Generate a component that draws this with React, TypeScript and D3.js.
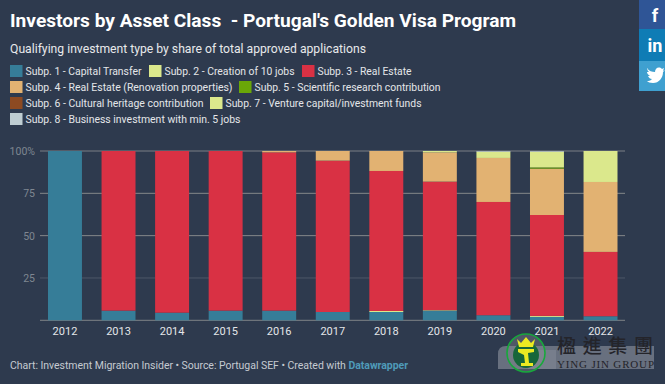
import React from "react";
import * as d3 from "d3";

const years = ["2012","2013","2014","2015","2016","2017","2018","2019","2020","2021","2022"];
const seriesNames = [
  "Subp. 1 - Capital Transfer",
  "Subp. 2 - Creation of 10 jobs",
  "Subp. 3 - Real Estate",
  "Subp. 4 - Real Estate (Renovation properties)",
  "Subp. 5 - Scientific research contribution",
  "Subp. 6 - Cultural heritage contribution",
  "Subp. 7 - Venture capital/investment funds",
  "Subp. 8 - Business investment with min. 5 jobs",
];
const seriesColors = ["#367d98","#dbe88c","#d93144","#e2b272","#6aa708","#8d4a22","#dbe88c","#bfcdd2"];
const sub1 = [100,5.7,4.5,5.7,5.7,4.9,4.9,5.7,3,2,2.4];
const sub2 = [0,0,0,0,0,0,0.6,0.3,0,0.6,0];
const sub3 = [0,94.3,95.5,94.3,93.5,89.4,82.7,75.9,66.9,59.6,38];
const sub4 = [0,0,0,0,0.8,5.7,11.8,17.3,26,27.4,41.3];
const sub5 = [0,0,0,0,0,0,0,0,0,0.7,0];
const sub6 = [0,0,0,0,0,0,0,0,0,0,0];
const sub7 = [0,0,0,0,0,0,0,0.8,3.7,9.3,18.3];
const sub8 = [0,0,0,0,0,0,0,0,0.4,0.4,0];
const allSeries = [sub1,sub2,sub3,sub4,sub5,sub6,sub7,sub8];
const yTicks = [0,25,50,75,100];
const tickLabels = ["","25","50","75","100%"];
const gridColors = ["#7f8488","#4e5768","#85888a","#85888a","#7a7f85"];

const legendOrder = [0,1,2,3,4,5,6,7];
const legendRow = [0,0,0,1,1,2,2,3];
const legendSwatchX = [10,149,302,10,239,10,210,10];
const legendTextWidth = [116,130,94,207,186,178,196,215];
const titleText = "Investors by Asset Class  - Portugal's Golden Visa Program";
const subtitleText = "Qualifying investment type by share of total approved applications";
const footerText = "Chart: Investment Migration Insider • Source: Portugal SEF • Created with ";
const footerLink = "Datawrapper";

const W = 665, H = 384;
const font = "Roboto, sans-serif";

export default function App() {
  const x = d3.scaleBand<string>().domain(years).range([38.2,627.3]).paddingInner(0.366).paddingOuter(0.183);
  const y = d3.scaleLinear().domain([0,100]).range([320.3,151]);
  const table = years.map((yr,i)=>{
    const o: Record<string, number|string> = {year: yr};
    allSeries.forEach((s,k)=>{o["s"+k]=s[i];});
    return o;
  });
  const stack = d3.stack<any>().keys(allSeries.map((_,k)=>"s"+k))(table);
  return (
    <svg width={W} height={H} viewBox={`0 0 ${W} ${H}`} style={{position:"fixed",left:0,top:0,display:"block",background:"#2e3a4e"}} fontFamily={font}>
      <rect width={W} height={H} fill="#2e3a4e"/>
      <text x={10} y={27} fill="#fff" fontSize={19} fontWeight={700} style={{whiteSpace:"pre"}} textLength={506} lengthAdjust="spacingAndGlyphs">{titleText}</text>
      <text x={10} y={52.5} fill="#e8e9eb" fontSize={13} textLength={356} lengthAdjust="spacingAndGlyphs">{subtitleText}</text>
      {legendOrder.map(k=>{
        const lx = legendSwatchX[k];
        const ly = 65+legendRow[k]*16;
        return <g key={k}>
          <rect x={lx} y={ly} width={12.5} height={12} fill={seriesColors[k]}/>
          <text x={lx+15.5} y={ly+9.7} fill="#e4e6e9" fontSize={11} textLength={legendTextWidth[k]} lengthAdjust="spacingAndGlyphs">{seriesNames[k]}</text>
        </g>;
      })}
      <g>
        {yTicks.map((t,i)=><line key={t} x1={40} x2={625} y1={y(t)} y2={y(t)} stroke={gridColors[i]} strokeWidth={1}/>)}
        {yTicks.map((t,i)=><text key={t} x={35} y={y(t)+4} textAnchor="end" fill="#7f8791" fontSize={10.5}>{tickLabels[i]}</text>)}
      </g>
      {stack.map((layer,k)=><g key={k} fill={seriesColors[k]}>
        {layer.map((d,i)=>d[1]-d[0]>0 && <rect key={i} x={x(years[i])} width={x.bandwidth()} y={y(d[1])} height={y(d[0])-y(d[1])}/>)}
      </g>)}
      {years.map(yr=><text key={yr} x={x(yr)!+x.bandwidth()/2} y={335} textAnchor="middle" fill="#e4e6e9" fontSize={11}>{yr}</text>)}
      <text x={10} y={369} fill="#c5cad1" fontSize={10.5} textLength={398}>{footerText}<tspan fill="#4f9bb9" fontWeight={700}>{footerLink}</tspan></text>
      <rect x={639} y={0} width={26} height={29} fill="#2f5596"/>
      <rect x={639} y={29} width={26} height={32} fill="#0f7cb5"/>
      <rect x={639} y={61} width={26} height={30} fill="#3fa0d0"/>
      <text x={655} y={22} textAnchor="middle" fill="#fff" fontSize={18} fontWeight={700}>f</text>
      <text x={655} y={52} textAnchor="middle" fill="#fff" fontSize={18} fontWeight={700}>in</text>
      <path d="M647 68c2 3 5 4 8 4 0-4 4-6 7-3l2-1-1 3 2-1-2 2c0 6-4 11-10 11-3 0-5-1-6-2 2 0 3 0 5-2-2 0-3-1-4-3h2c-2-1-3-3-3-4l2 0c-2-2-2-3-1-4z" fill="#fff"/>
      <g>
        <path d="M506 346H654V369H498V354Q498 346 506 346Z" fill="#fff" opacity={0.28}/>
        <rect x={528} y={350} width={28} height={19} fill="#fff" opacity={0.1}/>
        <circle cx={526} cy={353} r={19} fill="#8b8f96" fillOpacity={0.35} stroke="#18a83c" strokeWidth={1.6}/>
        <circle cx={526} cy={355} r={13} fill="#17663a"/>
        <path d="M517 339l4 4 5-6 5 6 4-4-2 8h-14z" fill="#ecea22"/>
        <path d="M518 349h16v3l-6 1 1 10h4v3h-12v-3h4l-1-8-6-3z" fill="#ecea22"/>
        <text x={557} y={353} fontFamily="'Noto Sans CJK TC', sans-serif" fontSize={19} fontWeight={500} fill="#24242a" textLength={96}>楹進集團</text>
        <text x={557} y={368} fontFamily="'Liberation Serif', serif" fontSize={11} fill="#24242a" textLength={97}>YING JIN GROUP</text>
      </g>
    </svg>
  );
}
